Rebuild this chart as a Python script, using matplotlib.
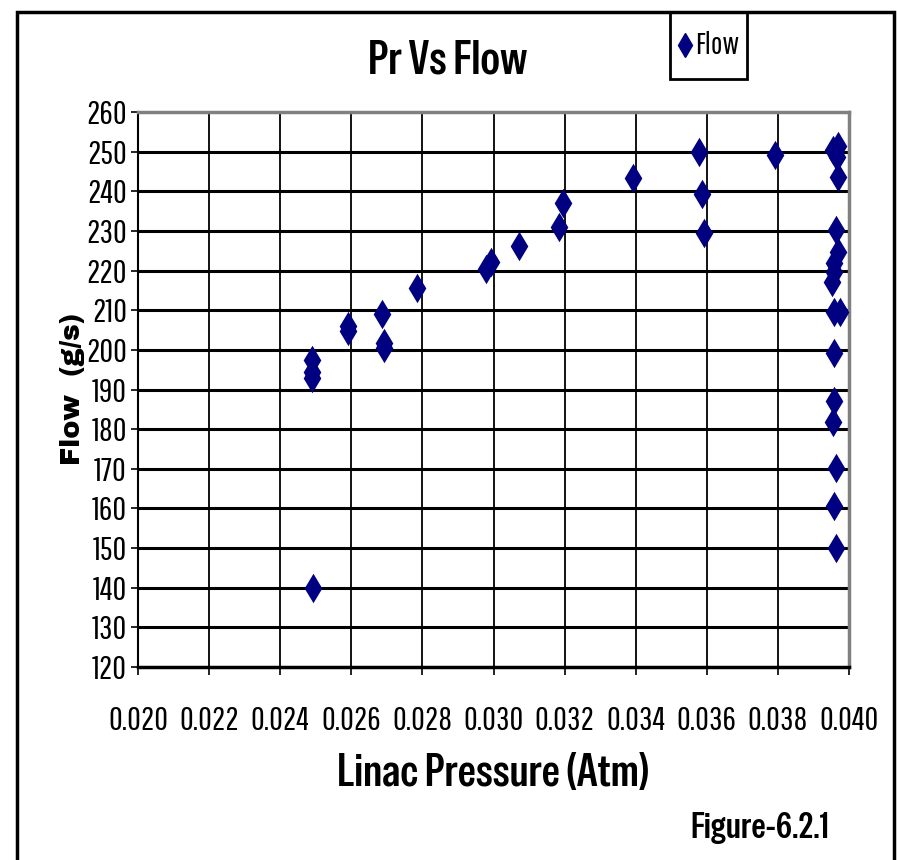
import matplotlib
matplotlib.use("Agg")
import matplotlib.pyplot as plt
from matplotlib.patches import Rectangle
from matplotlib.lines import Line2D

TICK_FONT = ["Pathway Gothic One", "Archivo Narrow", "Liberation Sans", "DejaVu Sans"]
BOLD_FONT = ["Special Gothic Condensed One", "Archivo Narrow", "Liberation Sans", "DejaVu Sans"]
WIDE_FONT = ["Archivo Black", "Liberation Sans", "DejaVu Sans"]

# Linac pressure (Atm) and flow (g/s)
pressure = [
    0.02489, 0.02489, 0.02489, 0.02492,
    0.02592, 0.02592, 0.02686, 0.02691, 0.02691,
    0.02784, 0.02978, 0.02992, 0.03072, 0.03185, 0.03196,
    0.03393, 0.03577, 0.03587, 0.03593, 0.03791,
    0.03956, 0.03970, 0.03965, 0.03968, 0.03963, 0.03968,
    0.03959, 0.03959, 0.03953, 0.03959, 0.03975, 0.03959,
    0.03959, 0.03955, 0.03963, 0.03959, 0.03963,
]
flow = [
    197.5, 194.5, 193.0, 140.0,
    206.0, 204.8, 209.0, 201.8, 200.5,
    215.5, 220.3, 222.1, 226.2, 231.1, 237.0,
    243.4, 250.0, 239.3, 229.6, 249.2,
    250.4, 251.3, 248.7, 243.7, 230.2, 224.8,
    221.9, 219.7, 217.0, 209.6, 209.6, 199.2,
    187.0, 181.9, 170.2, 160.5, 150.0,
]

x_ticks = [0.020, 0.022, 0.024, 0.026, 0.028, 0.030, 0.032, 0.034, 0.036, 0.038, 0.040]
y_ticks = list(range(120, 261, 10))

navy = "#000080"

fig = plt.figure(figsize=(8.97, 8.6), dpi=100)

# chart area border
fig.patches.append(Rectangle((17 / 897, -0.05), (894 - 17) / 897, 1.05 - 12 / 860,
                             transform=fig.transFigure, fill=False,
                             edgecolor="black", linewidth=2.5))

ax = fig.add_axes([138 / 897, 1 - 667 / 860, (849 - 138) / 897, (667 - 112) / 860])
ax.scatter(pressure, flow, marker="d", s=15 ** 2, color=navy, zorder=3, linewidths=0)

ax.set_xlim(0.020, 0.040)
ax.set_ylim(120, 260)
ax.set_xticks(x_ticks)
ax.set_yticks(y_ticks)
ax.set_xticklabels([f"{v:.3f}" for v in x_ticks], family=TICK_FONT, fontsize=24)
ax.set_yticklabels([str(v) for v in y_ticks], family=TICK_FONT, fontsize=24)
ax.tick_params(axis="x", direction="out", length=6, width=1.2, pad=22)
ax.tick_params(axis="y", direction="out", length=5, width=1.2, pad=3)

for v in y_ticks[1:-1]:
    ax.axhline(v, color="black", linewidth=2.2, zorder=1)
for v in x_ticks[1:-1]:
    ax.axvline(v, color="black", linewidth=1.3, zorder=1)

ax.spines["left"].set_linewidth(1.5)
ax.spines["bottom"].set_linewidth(2.5)
ax.spines["top"].set_color("#808080")
ax.spines["top"].set_linewidth(2.5)
ax.spines["right"].set_color("#808080")
ax.spines["right"].set_linewidth(2.5)

fig.text(493 / 897, 1 - 773 / 860, "Linac Pressure (Atm)", family=BOLD_FONT, fontsize=33,
         ha="center", va="center")
fig.text(72 / 897, 1 - 389 / 860, "Flow  (g/s)", family=WIDE_FONT, fontsize=19.5,
         rotation=90, ha="center", va="center")

fig.text(448 / 897, 1 - 60 / 860, "Pr Vs Flow", family=BOLD_FONT, fontsize=34,
         ha="center", va="center")
fig.text(760 / 897, 1 - 828 / 860, "Figure-6.2.1", family=BOLD_FONT, fontsize=26,
         ha="center", va="center")

# legend box
fig.patches.append(Rectangle((670 / 897, 1 - 79 / 860), 77 / 897, 67 / 860,
                             transform=fig.transFigure, fill=False,
                             edgecolor="black", linewidth=2))
fig.lines.append(Line2D([685 / 897], [1 - 45 / 860], transform=fig.transFigure,
                        marker="d", markersize=12, color=navy, linestyle="none"))
fig.text(695 / 897, 1 - 45 / 860, "Flow", family=TICK_FONT, fontsize=22,
         ha="left", va="center")

fig.savefig("out.png", dpi=100)
